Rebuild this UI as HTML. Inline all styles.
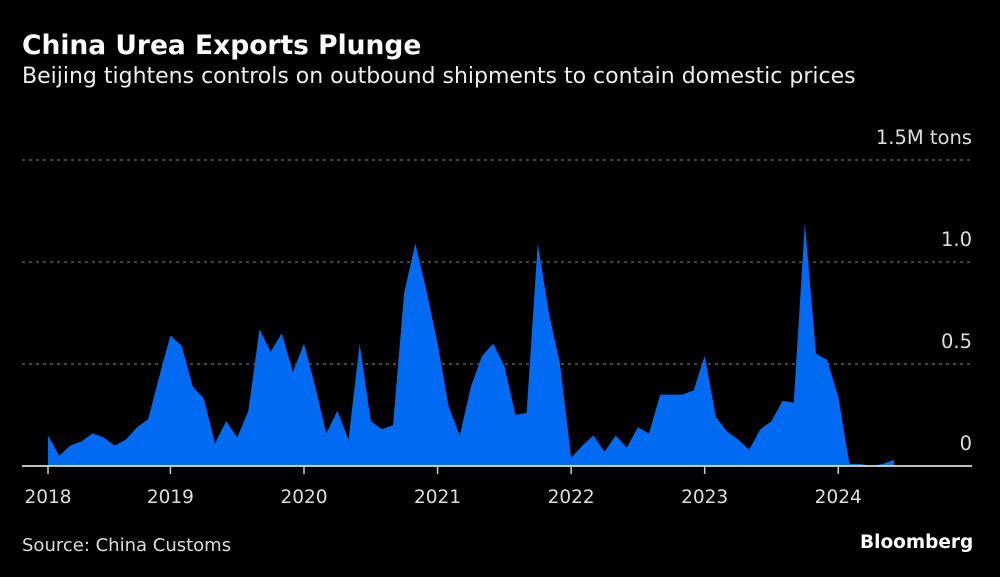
<!DOCTYPE html>
<html><head><meta charset="utf-8"><style>
body{margin:0;background:#000;width:1000px;height:577px;overflow:hidden;font-family:"DejaVu Sans","Liberation Sans",sans-serif;color:#fff}
.t{position:absolute;white-space:nowrap}
</style></head><body>
<div class="t" style="left:22px;top:30px;font-size:26.5px;font-weight:bold">China Urea Exports Plunge</div>
<div class="t" style="left:22px;top:64px;font-size:22px;color:#eee">Beijing tightens controls on outbound shipments to contain domestic prices</div>
<svg id="c" width="1000" height="577" style="position:absolute;left:0;top:0"></svg>
<div class="t" style="left:22px;top:535px;font-size:18px;color:#ddd">Source: China Customs</div>
<div class="t" style="left:860px;top:532px;font-size:18.5px;font-weight:bold">Bloomberg</div>
<script>
const values=[0.15,0.05,0.10,0.12,0.16,0.14,0.10,0.13,0.19,0.23,0.44,0.64,0.59,0.39,0.33,0.11,0.22,0.14,0.27,0.67,0.56,0.65,0.46,0.60,0.39,0.16,0.27,0.13,0.60,0.22,0.18,0.20,0.85,1.09,0.86,0.60,0.29,0.15,0.39,0.54,0.60,0.49,0.25,0.26,1.09,0.75,0.50,0.04,0.10,0.15,0.07,0.15,0.09,0.19,0.16,0.35,0.35,0.35,0.37,0.54,0.24,0.17,0.13,0.08,0.18,0.22,0.32,0.31,1.19,0.55,0.52,0.34,0.01,0.01,0.0,0.01,0.03];
const yearLabels=["2018","2019","2020","2021","2022","2023","2024"];
const yearIdx=[0,11,23,35,47,59,71];
const yTicks=[0,0.5,1.0,1.5];
const yTickLabels=["0","0.5","1.0","1.5M tons"];
const NS="http://www.w3.org/2000/svg";
const svg=document.getElementById('c');
const x=i=>48+i*11.13;
const y=v=>466-v*204;
function mk(tag,attrs){const e=document.createElementNS(NS,tag);for(const k in attrs)e.setAttribute(k,attrs[k]);svg.appendChild(e);return e;}
yTicks.forEach((v,k)=>{
  if(v>0){const g=mk('line',{x1:22,x2:972,y1:y(v),y2:y(v),stroke:'#888','stroke-dasharray':'3,4','stroke-width':1});
  
  }
  const t=mk('text',{x:972,y:y(v)-16,'text-anchor':'end','font-size':19.5,fill:'#ddd','font-family':'DejaVu Sans, Liberation Sans, sans-serif'});
  t.textContent=yTickLabels[k];
  
  
});
let d='M'+x(0)+','+y(0);
values.forEach((v,i)=>{d+=' L'+x(i)+','+y(v);});
d+=' L'+x(values.length-1)+','+y(0)+' Z';
const a=mk('path',{d:d,fill:'#006bf0'});


const b=mk('line',{x1:22,x2:972,y1:466,y2:466,stroke:'#fff','stroke-width':1.5});


yearIdx.forEach((idx,k)=>{
  const tk=mk('line',{x1:x(idx),x2:x(idx),y1:467,y2:474,stroke:'#ccc','stroke-width':1.5});
  
  
  const t=mk('text',{x:x(idx),y:503,'text-anchor':'middle','font-size':18.5,fill:'#ddd','font-family':'DejaVu Sans, Liberation Sans, sans-serif'});
  t.textContent=yearLabels[k];
  
  
});
</script>
</body></html>
